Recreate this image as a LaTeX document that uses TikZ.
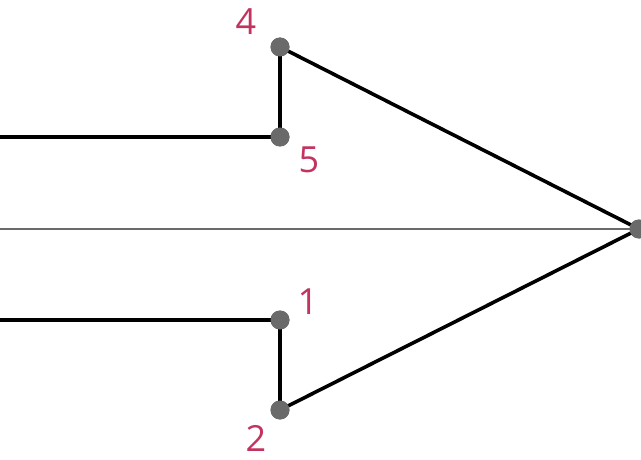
\documentclass[tikz,border=0pt]{standalone}
\usepackage{fontspec}
\setmainfont{Open Sans}
\definecolor{lab}{HTML}{C2345F}
\definecolor{dotc}{HTML}{6A6A6A}
\begin{document}
\begin{tikzpicture}[x=1pt,y=-1pt,
  ln/.style={line width=3.6pt,black},
  pt/.style={circle,fill=dotc,inner sep=0pt,minimum size=19pt},
  lb/.style={text=lab,font=\fontsize{36}{36}\selectfont,inner sep=0pt}]
\useasboundingbox (0,0) rectangle (641,460);
\coordinate (l1) at (0,137);
\coordinate (l2) at (0,320);
\coordinate (lm) at (0,229);
\node[pt] (p4) at (280,47) {};
\node[pt] (p5) at (280,137) {};
\node[pt] (p1) at (280,320) {};
\node[pt] (p2) at (280,410) {};
\node[pt] (tip) at (639,229) {};
\draw[line width=2.6pt,dotc] (lm) -- (tip.center);
\draw[ln] (l1) -- (p5.center) -- (p4.center) -- (tip.center) -- (p2.center) -- (p1.center) -- (l2);
\node[pt] at (p4) {};\node[pt] at (p5) {};\node[pt] at (p1) {};\node[pt] at (p2) {};\node[pt] at (tip) {};
\node[lb] (t4) at (246,22) {4};
\node[lb] (t5) at (309,160) {5};
\node[lb] (t1) at (308,302) {1};
\node[lb] (t2) at (256,438) {2};
\end{tikzpicture}
\end{document}
